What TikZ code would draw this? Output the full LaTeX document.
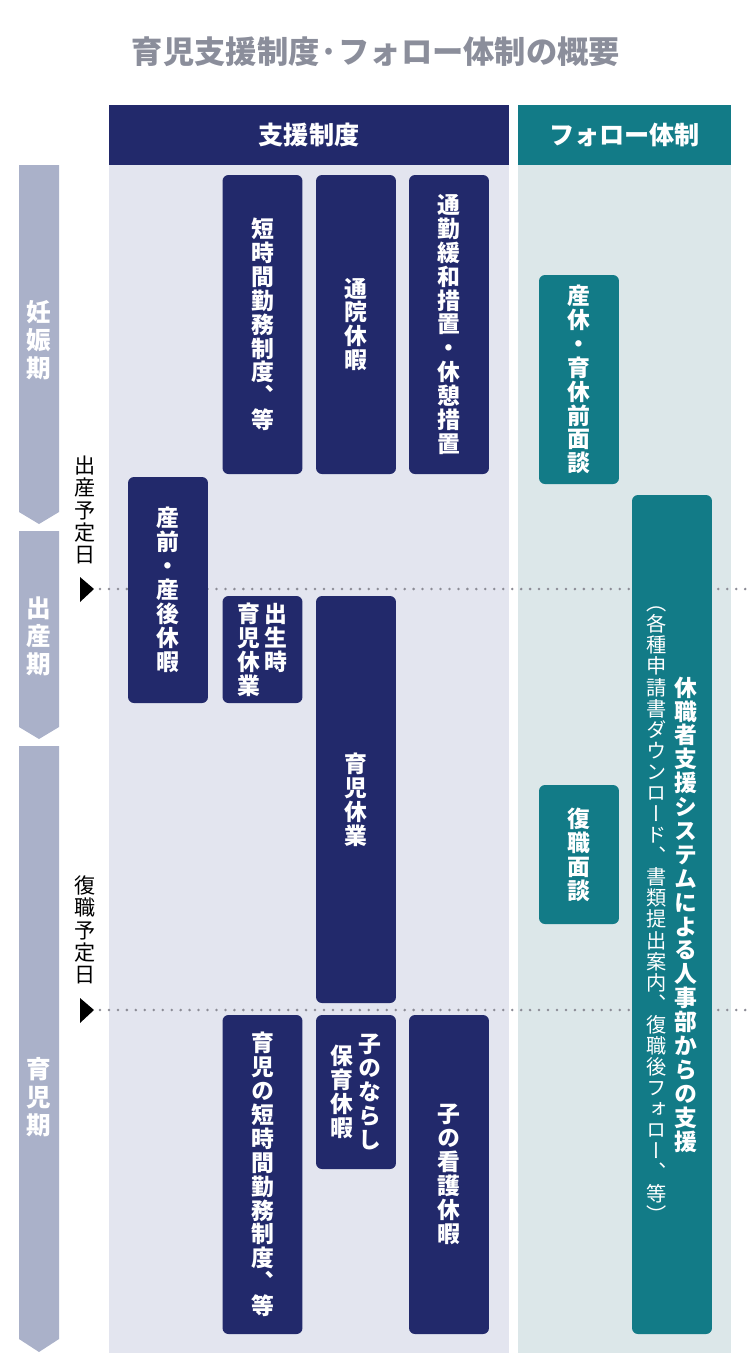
\documentclass[tikz,border=0pt]{standalone}
\usepackage{fontspec}
\setmainfont{Noto Sans CJK JP}
\newfontfamily\tatefont{Noto Sans CJK JP}[RawFeature=+vert]
\usetikzlibrary{fit}
\definecolor{shiennavy}{RGB}{34,41,107}
\definecolor{followteal}{RGB}{18,123,135}
\definecolor{shienbg}{RGB}{227,229,239}
\definecolor{followbg}{RGB}{220,231,233}
\definecolor{phasegray}{RGB}{170,177,201}
\definecolor{titlegray}{RGB}{139,142,155}
\definecolor{dotgray}{RGB}{140,140,150}
% vertical text: one character per line
\ExplSyntaxOn
\NewDocumentCommand\tate{O{c}m}{
  \seq_clear:N \l_tmpa_seq
  \tl_map_inline:nn {#2} { \seq_put_right:Nn \l_tmpa_seq {##1} }
  \parbox[#1]{1.2em}{\centering\lineskiplimit=-\maxdimen \seq_use:Nn \l_tmpa_seq {\\}}
}
\ExplSyntaxOff
\tikzset{
  navybox/.style={fill=shiennavy, rounded corners=0.12cm, inner sep=0pt, text=white,
                  minimum width=1.6cm, font=\tatefont\bfseries\fontsize{13pt}{13.6pt}\selectfont},
  tealbox/.style={navybox, fill=followteal},
  tall/.style={minimum height=#1*0.02cm},
  headbox/.style={inner sep=0pt, text=white, minimum height=1.2cm,
                  font=\bfseries\fontsize{14.3pt}{17pt}\selectfont},
  panel/.style={inner sep=0pt},
  phase/.style={fill=phasegray},
  phaselab/.style={text=white, inner sep=0pt, font=\tatefont\bfseries\fontsize{14pt}{15.9pt}\selectfont},
  duelab/.style={text=black, inner sep=0pt, font=\tatefont\fontsize{12pt}{12.75pt}\selectfont},
  duemark/.style={fill=black},
  dotline/.style={dotgray, line width=1.6pt, line cap=round, dash pattern=on 0pt off 5.1pt},
}

\begin{document}
\begin{tikzpicture}[x=0.02cm, y=-0.02cm]
  \useasboundingbox (0,0) rectangle (750,1353);
  \node[text=titlegray, font=\bfseries\fontsize{17.8pt}{21pt}\selectfont] (title) at (376,52) {育児支援制度·フォロー体制の概要};

  % columns
  \node[panel, fill=shienbg, fit={(109,165) (509,1353)}] (shienpanel) {};
  \node[panel, fill=followbg, fit={(518,165) (731,1353)}] (followpanel) {};
  \node[headbox, fill=shiennavy, minimum width=8cm] (shienhead) at (309,135) {支援制度};
  \node[headbox, fill=followteal, minimum width=4.26cm] (followhead) at (624.5,135) {フォロー体制};

  % phases
  \fill[phase] (19,165) -- (59,165) -- (59,512) -- (39,524) -- (19,512) -- cycle;
  \fill[phase] (19,531) -- (59,531) -- (59,727) -- (39,739) -- (19,727) -- cycle;
  \fill[phase] (19,746) -- (59,746) -- (59,1339) -- (39,1352) -- (19,1339) -- cycle;
  \node[phaselab] (ninshin) at (39,340) {\tate{妊娠期}};
  \node[phaselab] (shussan) at (39,636) {\tate{出産期}};
  \node[phaselab] (ikuji) at (39,1097) {\tate{育児期}};

  % due dates
  \node[duelab] (shussanbi) at (85,510) {\tate{出産予定日}};
  \node[duelab] (fukushokubi) at (85,930) {\tate{復職予定日}};
  \fill[duemark] (80,577) -- (94,589) -- (80,602) -- cycle;
  \fill[duemark] (80,998) -- (94,1010) -- (80,1023) -- cycle;
  \coordinate (d1) at (100,589);
  \coordinate (d1e) at (750,589);
  \coordinate (d2) at (100,1010);
  \coordinate (d2e) at (750,1010);
  \draw[dotline] (d1) -- (d1e);
  \draw[dotline] (d2) -- (d2e);

  % shien seido
  \node[navybox, tall=299] (tanjikan) at (262.5,324.5) {\tate{短時間勤務制度、等}};
  \node[navybox, tall=299] (tsuin) at (356,324.5) {\tate{通院休暇}};
  \node[navybox, tall=299] (tsukin) at (449,324.5) {\tate{通勤緩和措置・休憩措置}};
  \node[navybox, tall=226] (sanzengo) at (168,590) {\tate{産前・産後休暇}};
  \node[navybox, tall=107] (shusseiji) at (262.5,649.5) {\tate[t]{育児休業}\tate[t]{出生時}};
  \node[navybox, tall=407] (ikukyu) at (356,799.5) {\tate{育児休業}};
  \node[navybox, tall=319] (ikujitan) at (262.5,1174.5) {\tate{育児の短時間勤務制度、等}};
  \node[navybox, tall=154] (narashi) at (356,1092) {\tate{保育休暇}\tate{子のならし}};
  \node[navybox, tall=319] (kango) at (449,1174.5) {\tate{子の看護休暇}};

  % follow
  \node[tealbox, tall=209] (maemendan) at (579,379.5) {\tate{産休・育休前面談}};
  \node[tealbox, tall=139] (fukumendan) at (579,854.5) {\tate{復職面談}};
  \node[tealbox, tall=839] (system) at (672,914.5) {{\mdseries\fontsize{11.5pt}{12pt}\selectfont\tate{（各種申請書ダウンロード、書類提出案内、復職後フォロー、等）}}\hspace{2pt}\tate{休職者支援システムによる人事部からの支援}};
\end{tikzpicture}
\end{document}
